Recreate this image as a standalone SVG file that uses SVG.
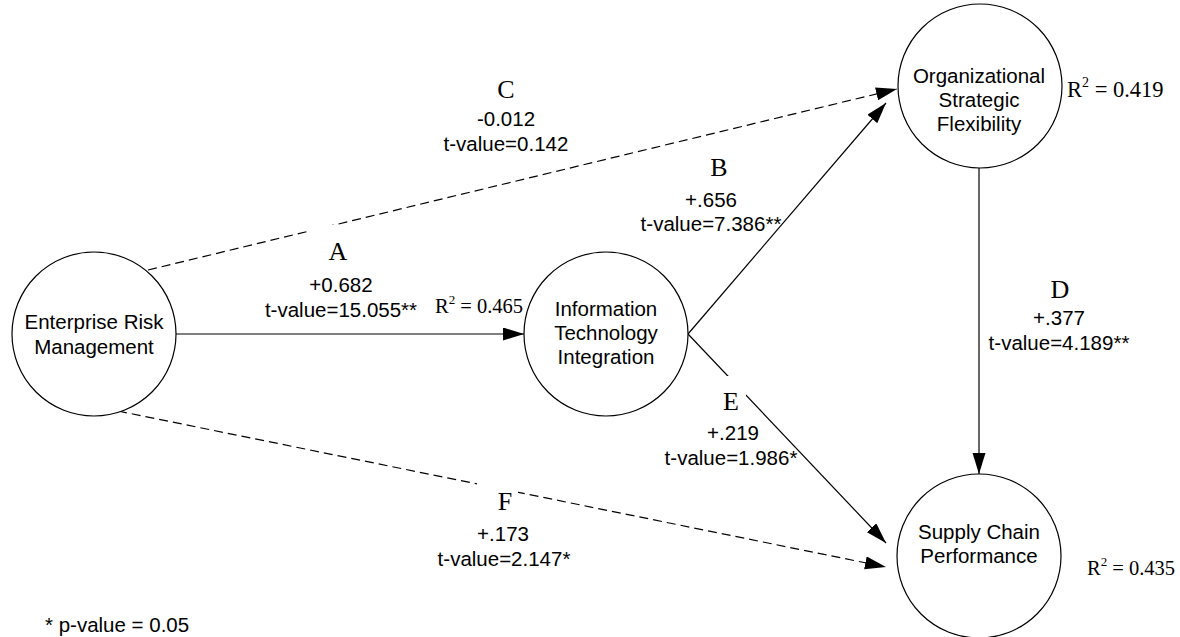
<svg xmlns="http://www.w3.org/2000/svg" width="1180" height="637" viewBox="0 0 1180 637">
<style>
.node{fill:#fff;stroke:#000;stroke-width:1.2}
.t{font-family:"Liberation Sans",Arial,sans-serif;font-size:20.5px;fill:#000;text-anchor:middle}
.s{font-family:"Liberation Serif","Times New Roman",serif;font-size:20.5px;fill:#000}
.L{font-family:"Liberation Serif","Times New Roman",serif;font-size:26px;fill:#000;text-anchor:middle}
.ln{stroke:#000;stroke-width:1.2;fill:none;marker-end:url(#ah)}
.d{stroke-dasharray:9 5}
.bg{fill:#fff;stroke:none}
</style>
<defs>
<marker id="ah" markerUnits="userSpaceOnUse" markerWidth="22" markerHeight="14" refX="21" refY="6.5" orient="auto" viewBox="0 0 22 14">
<path d="M0,0 L21,6.5 L0,13 Z" fill="#000"/>
</marker>
</defs>
<rect width="1180" height="637" fill="#fff"/>
<g id="connectors">
<line class="ln d" x1="148" y1="270" x2="897" y2="89"/>
<line class="ln" x1="176" y1="334" x2="524" y2="334"/>
<line class="ln" x1="688" y1="334" x2="886" y2="103"/>
<line class="ln" x1="688" y1="334" x2="886" y2="543"/>
<line class="ln d" x1="118" y1="411" x2="886" y2="567"/>
<line class="ln" x1="979" y1="168" x2="979" y2="474"/>
</g>
<g id="labels">
<rect class="bg" x="309" y="225" width="50" height="40"/>
<rect class="bg" x="477" y="482" width="41" height="33"/>
<rect class="bg" x="718" y="376" width="28" height="38"/>
<text class="L" x="506" y="98">C</text>
<text class="t" x="506" y="126">-0.012</text>
<text class="t" x="506" y="151">t-value=0.142</text>
<text class="L" x="338" y="260">A</text>
<text class="t" x="341" y="292">+0.682</text>
<text class="t" x="341" y="317">t-value=15.055**</text>
<text class="L" x="719" y="176">B</text>
<text class="t" x="711" y="207">+.656</text>
<text class="t" x="711" y="231">t-value=7.386**</text>
<text class="L" x="1060" y="298">D</text>
<text class="t" x="1059" y="325">+.377</text>
<text class="t" x="1059" y="350">t-value=4.189**</text>
<text class="L" x="731" y="410">E</text>
<text class="t" x="733" y="440">+.219</text>
<text class="t" x="731" y="465">t-value=1.986*</text>
<text class="L" x="505" y="510">F</text>
<text class="t" x="503" y="541">+.173</text>
<text class="t" x="504" y="566">t-value=2.147*</text>
<text class="s" x="435" y="313">R<tspan font-size="13" dy="-9">2</tspan><tspan dy="9"> = 0.465</tspan></text>
<text class="s" x="1067" y="97" style="font-size:22.5px">R<tspan font-size="14" dy="-10">2</tspan><tspan dy="10"> = 0.419</tspan></text>
<text class="s" x="1087" y="575">R<tspan font-size="13" dy="-9">2</tspan><tspan dy="9"> = 0.435</tspan></text>
<text class="t" x="45" y="632" style="text-anchor:start">* p-value = 0.05</text>
</g>
<g id="erm">
<circle class="node" cx="94" cy="334" r="82"/>
<text class="t" x="94" y="329">Enterprise Risk</text>
<text class="t" x="94" y="354">Management</text>
</g>
<g id="iti">
<circle class="node" cx="606" cy="334" r="82"/>
<text class="t" x="606" y="316">Information</text>
<text class="t" x="606" y="340">Technology</text>
<text class="t" x="606" y="364">Integration</text>
</g>
<g id="osf">
<circle class="node" cx="980" cy="86" r="82"/>
<text class="t" x="979" y="83">Organizational</text>
<text class="t" x="979" y="107">Strategic</text>
<text class="t" x="979" y="131">Flexibility</text>
</g>
<g id="scp">
<circle class="node" cx="979" cy="556" r="82"/>
<text class="t" x="979" y="539">Supply Chain</text>
<text class="t" x="979" y="563">Performance</text>
</g>
</svg>
